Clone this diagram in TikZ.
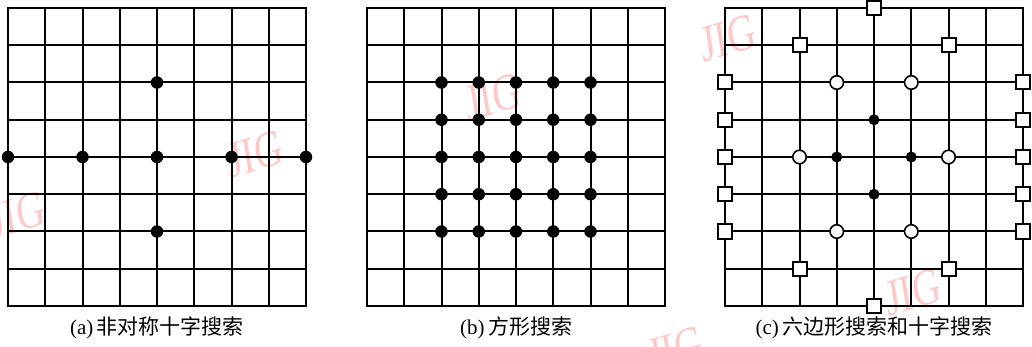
\documentclass[tikz,border=0pt]{standalone}
\usepackage{fontspec}
\setmainfont{Liberation Serif}
\newfontfamily\cjk{Noto Sans CJK SC}
\definecolor{wmpink}{RGB}{255,200,200}
\tikzset{
  gridline/.style={line width=2pt, line cap=rect},
  fdot/.style={circle, fill=black, inner sep=0pt, minimum size=12.5pt},
  sdot/.style={circle, fill=black, inner sep=0pt, minimum size=11pt},
  odot/.style={circle, draw=black, fill=white, line width=1.6pt, inner sep=0pt, minimum size=13.5pt},
  sqbox/.style={rectangle, draw=black, fill=white, line width=2pt, inner sep=0pt, minimum size=14pt},
  captext/.style={inner sep=0pt, font=\fontsize{21pt}{24pt}\selectfont},
  wm/.style={text=wmpink, inner sep=0pt, font=\fontsize{52pt}{56pt}\selectfont, xscale=0.75, rotate=12}
}
\begin{document}
\begin{tikzpicture}[x=1pt,y=-1pt]
\useasboundingbox (0,0) rectangle (1032,347);
% watermarks
\node[wm] (w1) at (255,154) {JIG};
\node[wm] (w2) at (17,215) {JIG};
\node[wm] (w3) at (493,97) {JIG};
\node[wm] (w4) at (675,350) {JIG};
\node[wm] (w5) at (913,292) {JIG};
\node[wm] (w6) at (728,38) {JIG};
% grids
\foreach \ox in {8,367,725} {
  \foreach \i in {0,...,8} {
    \draw[gridline] ({\ox+\i*37.25},8) -- ({\ox+\i*37.25},304);
    \draw[gridline] (\ox,{8+\i*37.25}) -- ({\ox+298},{8+\i*37.25});
  }
}
% (a) asymmetric cross
\foreach \c/\r in {0/4,2/4,4/4,6/4,8/4,4/2,4/6}
  \node[fdot] (a\c\r) at ({8+\c*37.25},{8+\r*37.25}) {};
% (b) square
\foreach \c in {2,...,6}
  \foreach \r in {2,...,6}
    \node[fdot] (b\c\r) at ({367+\c*37.25},{8+\r*37.25}) {};
% (c) hexagon and cross
\foreach \c/\r in {4/0,2/1,6/1,0/2,8/2,0/3,8/3,0/4,8/4,0/5,8/5,0/6,8/6,2/7,6/7,4/8}
  \node[sqbox] (cs\c\r) at ({725+\c*37.25},{8+\r*37.25}) {};
\foreach \c/\r in {3/2,5/2,2/4,6/4,3/6,5/6}
  \node[odot] (co\c\r) at ({725+\c*37.25},{8+\r*37.25}) {};
\foreach \c/\r in {4/3,3/4,5/4,4/5}
  \node[sdot] (cf\c\r) at ({725+\c*37.25},{8+\r*37.25}) {};
% captions
\node[captext] (capa) at (157,328) {(a)\,{\cjk 非对称十字搜索}};
\node[captext] (capb) at (516,328) {(b)\,{\cjk 方形搜索}};
\node[captext] (capc) at (874,328) {(c)\,{\cjk 六边形搜索和十字搜索}};
\end{tikzpicture}
\end{document}
